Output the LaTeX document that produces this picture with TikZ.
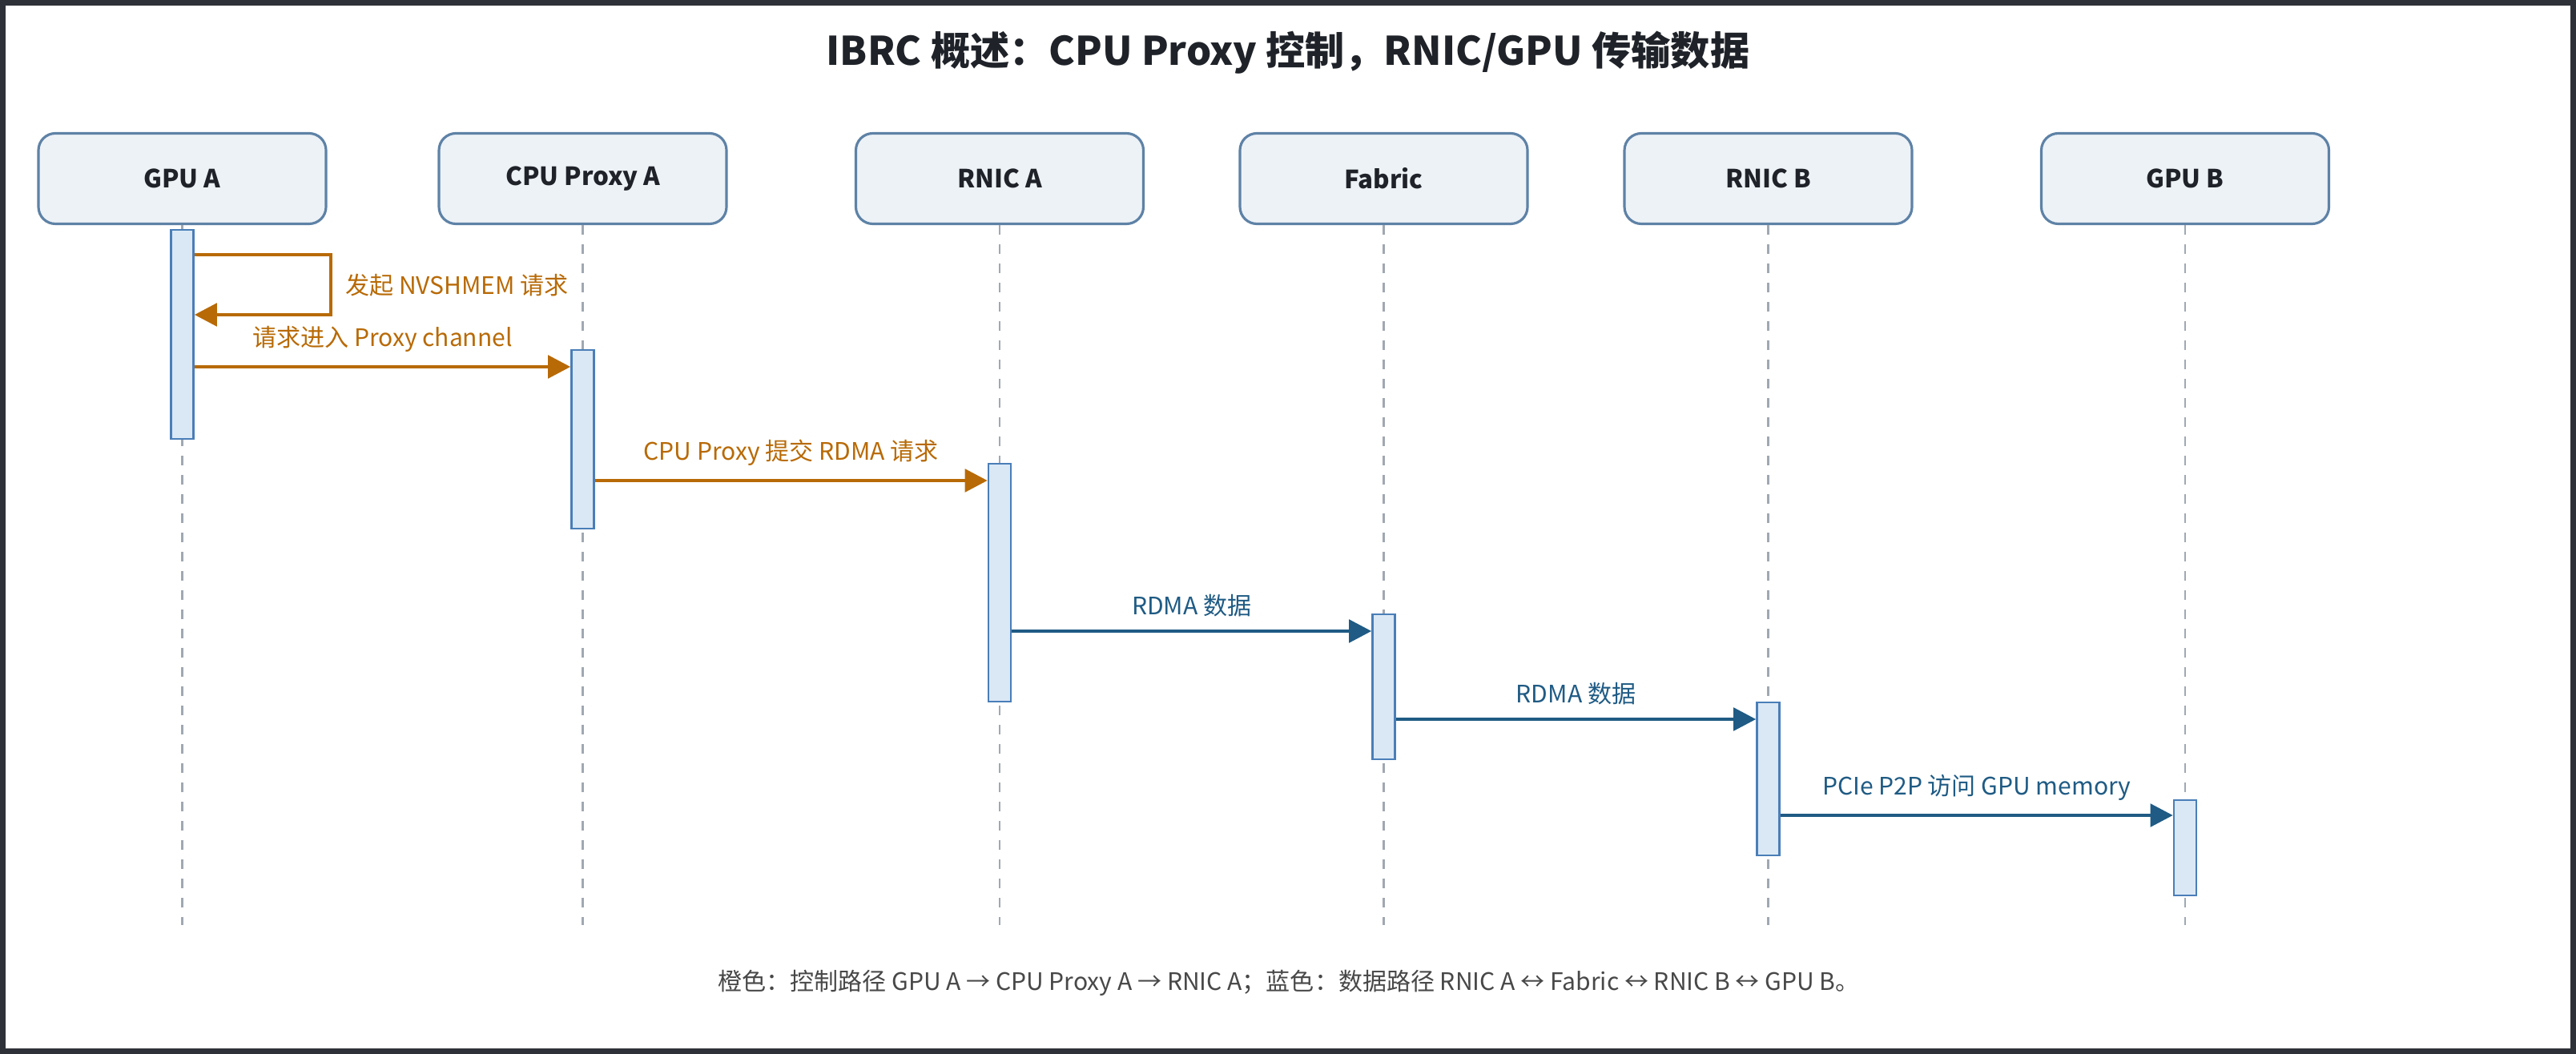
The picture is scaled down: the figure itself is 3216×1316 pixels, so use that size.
\documentclass[tikz,border=0pt]{standalone}
\usepackage{fontspec}
\setmainfont{Noto Sans CJK SC}
\usetikzlibrary{arrows.meta}

\definecolor{framec}{RGB}{46,49,56}
\definecolor{inkc}{RGB}{31,35,41}
\definecolor{notec}{RGB}{72,72,72}
\definecolor{partyfill}{RGB}{237,242,247}
\definecolor{partyline}{RGB}{94,130,166}
\definecolor{actfill}{RGB}{218,232,245}
\definecolor{actline}{RGB}{74,126,184}
\definecolor{lifec}{RGB}{160,168,178}
\definecolor{ctrlc}{RGB}{184,106,6}
\definecolor{datac}{RGB}{31,91,132}

\begin{document}
\begin{tikzpicture}[x=0.1mm, y=-0.1mm]
        \tikzstyle{every node}=[inner sep=1pt, font=\fontsize{8.55}{10}\selectfont]
        \tikzstyle{party}=[rectangle, rounded corners=6pt, draw=partyline, fill=partyfill, line width=0.9pt, minimum width=35.9mm, minimum height=11.3mm, font=\fontsize{8.9}{11}\selectfont\bfseries, text=inkc]
        \tikzstyle{act}=[rectangle, draw=actline, fill=actfill, line width=0.7pt, minimum width=2.8mm, inner sep=0pt]
        \tikzstyle{life}=[lifec, line width=0.6pt, dash pattern=on 1.2mm off 1.2mm]
        \tikzstyle{ctrl}=[ctrlc, line width=1.4pt, -{Triangle[length=8pt, width=8pt]}]
        \tikzstyle{data}=[datac, line width=1.4pt, -{Triangle[length=8pt, width=8pt]}]

        \fill[framec] (0,0) rectangle (3216,1316);
        \fill[white] (7,7) rectangle (3209,1309);

        \node[font=\fontsize{14}{17}\selectfont\bfseries, text=inkc] (title) at (1608,66) {IBRC 概述：CPU Proxy 控制，RNIC/GPU 传输数据};

        \node[party] (gpua)   at (227.5,223)  {GPU A};
        \node[party] (proxya) at (727.5,223)  {CPU Proxy A};
        \node[party] (rnica)  at (1248,223)   {RNIC A};
        \node[party] (fabric) at (1727.5,223) {Fabric};
        \node[party] (rnicb)  at (2207.5,223) {RNIC B};
        \node[party] (gpub)   at (2728,223)   {GPU B};

        \coordinate (lifeend) at (0,1155);
        \draw[life] (gpua) -- (gpua |- lifeend)  (proxya) -- (proxya |- lifeend)  (rnica) -- (rnica |- lifeend)
                    (fabric) -- (fabric |- lifeend)  (rnicb) -- (rnicb |- lifeend)  (gpub) -- (gpub |- lifeend);

        \node[act, minimum height=26.1mm] (actgpua)   at (227.5,417.5)  {};
        \node[act, minimum height=22.3mm] (actproxya) at (727.5,548.5)  {};
        \node[act, minimum height=29.7mm] (actrnica)  at (1248,727.5)   {};
        \node[act, minimum height=18.1mm] (actfabric) at (1727.5,857.5) {};
        \node[act, minimum height=19.1mm] (actrnicb)  at (2207.5,972.5) {};
        \node[act, minimum height=11.9mm] (actgpub)   at (2728,1058.5)  {};

        \coordinate (selfa) at (413,318);
        \coordinate (selfb) at (413,393);
        \coordinate (m1) at (0,458);
        \coordinate (m2) at (0,600);
        \coordinate (m3) at (0,788);
        \coordinate (m4) at (0,898);
        \coordinate (m5) at (0,1018);

        \draw[ctrl] (actgpua.east |- selfa) -- (selfa) -- (selfb) -- (actgpua.east |- selfb);
        \node[anchor=west, text=ctrlc] (selflabel) at (427,356) {发起 NVSHMEM 请求};
        \draw[ctrl] (actgpua.east |- m1) -- node[above=1.2mm, text=ctrlc] {请求进入 Proxy channel} (actproxya.west |- m1);
        \draw[ctrl] (actproxya.east |- m2) -- node[above=1.2mm, text=ctrlc] {CPU Proxy 提交 RDMA 请求} (actrnica.west |- m2);

        \draw[data] (actrnica.east |- m3) -- node[above=1.2mm, text=datac] {RDMA 数据} (actfabric.west |- m3);
        \draw[data] (actfabric.east |- m4) -- node[above=1.2mm, text=datac] {RDMA 数据} (actrnicb.west |- m4);
        \draw[data] (actrnicb.east |- m5) -- node[above=1.2mm, text=datac] {PCIe P2P 访问 GPU memory} (actgpub.west |- m5);

        \node[text=notec] (note) at (1609,1227) {橙色：控制路径 GPU A → CPU Proxy A → RNIC A；蓝色：数据路径 RNIC A ↔ Fabric ↔ RNIC B ↔ GPU B。};
\end{tikzpicture}
\end{document}
